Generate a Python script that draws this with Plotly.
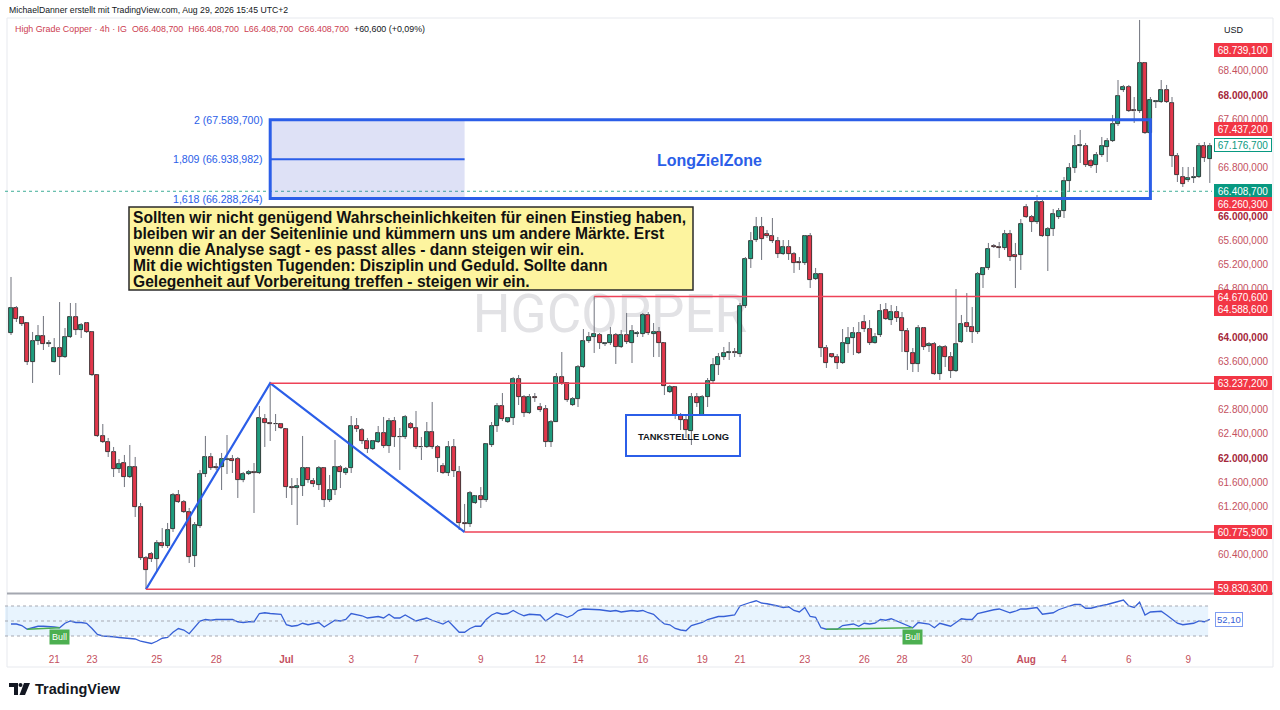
import plotly.graph_objects as go

# ---------------- DATA ----------------
OPEN = [
64066, 64479, 64331, 64231, 63587, 63934, 64017, 63884, 63587, 63818,
63669, 64000, 64331, 64116, 64231, 64083, 63372, 62364, 62265, 62099,
61818, 61917, 61686, 61851, 61190, 60347, 60413, 60331, 60595, 60545,
60826, 61388, 61273, 61107, 60380, 60876, 61735, 62017, 61851, 61851,
61967, 61983, 61983, 61636, 61735, 61769, 61752, 62645, 62579, 62562,
62562, 62479, 61520, 61510, 61537, 61835, 61620, 61554, 61835, 61306,
61471, 61851, 61752, 61835, 62529, 62463, 62281, 62149, 62265, 62413,
62198, 62612, 62347, 62347, 62562, 62496, 62182, 62182, 62430, 62182,
61868, 61752, 62182, 61769, 60926, 60909, 61256, 61372, 61306, 62215,
62529, 62860, 62595, 62661, 63306, 63008, 62744, 63000, 62843, 62810,
62265, 62595, 63339, 63240, 62876, 62975, 63504, 63934, 64000, 64033,
63884, 63901, 64033, 63835, 64033, 63901, 64050, 64050, 64364, 64050,
64083, 63901, 63091, 63174, 62711, 62628, 62446, 63008, 62711, 63008,
63273, 63537, 63669, 63736, 63736, 63719, 64512, 65289, 65603, 65818,
65703, 65670, 65587, 65372, 65488, 65372, 65240, 65223, 65670, 64959,
65041, 63818, 63719, 63669, 63570, 63884, 63983, 64066, 64248, 64132,
63901, 64033, 64446, 64281, 64413, 64314, 64099, 63736, 63554, 64149,
63851, 63884, 63388, 63835, 63669, 63438, 63917, 64231, 64165, 64083,
65025, 65141, 65504, 65488, 65471, 65703, 65355, 65355, 66149, 65984,
65901, 66232, 65670, 65785, 65984, 66083, 66579, 66794, 67160, 67157,
66909, 66843, 67008, 67141, 67240, 67521, 68083, 68133, 67736, 67736,
68529, 67372, 67885, 67885, 68083, 67868, 66992, 66645, 66595, 66628,
66645, 67157, 66942]

HIGH = [
64992, 64512, 64347, 64248, 64083, 64198, 64347, 63950, 63983, 64578,
64149, 64562, 64562, 64231, 64248, 64099, 63380, 62562, 62331, 62182,
61983, 62050, 62215, 62017, 61256, 60380, 60446, 60644, 60843, 60926,
61422, 61471, 61306, 61174, 60942, 61802, 62364, 62083, 61917, 62083,
62380, 62050, 62017, 61769, 61802, 61917, 62860, 62727, 63237, 62727,
62579, 62496, 61669, 61669, 62364, 61851, 61669, 61868, 61851, 61719,
62298, 61884, 61851, 62694, 62661, 62496, 62331, 62298, 62529, 62678,
62661, 62678, 62496, 62711, 62595, 62777, 62347, 62595, 62926, 62215,
61917, 62281, 62314, 61868, 61240, 61455, 61388, 61520, 62248, 62595,
62909, 63074, 62678, 63339, 63372, 63041, 63058, 63074, 62909, 62876,
62628, 63405, 63752, 63256, 63008, 63537, 64132, 64083, 64670, 64066,
63917, 64165, 64066, 64116, 64397, 64198, 64099, 64397, 64413, 64231,
64165, 63917, 63207, 63190, 62744, 62727, 63074, 63074, 63041, 63322,
63653, 63736, 63835, 63917, 63818, 64562, 65322, 65736, 65984, 65984,
65769, 65967, 65653, 65603, 65603, 65405, 65322, 65686, 65719, 65141,
65058, 63868, 63736, 63719, 64132, 64165, 64165, 64248, 64364, 64281,
64066, 64545, 64562, 64529, 64512, 64413, 64149, 63818, 64198, 64165,
63917, 63917, 63868, 63868, 63752, 64793, 64364, 64727, 64496, 65074,
65157, 65554, 65537, 65570, 65769, 65769, 65554, 65950, 66199, 66017,
66347, 66265, 65818, 66116, 66132, 66645, 66876, 67339, 67422, 67207,
66942, 67058, 67306, 67289, 67670, 68248, 68166, 68166, 67967, 69240,
68546, 67967, 67918, 68248, 68166, 67967, 67041, 66810, 66810, 66810,
67207, 67223, 67207]

LOW = [
64033, 64248, 64182, 63537, 63240, 63868, 63785, 63835, 63580, 63372,
63653, 63983, 64033, 63983, 64066, 63355, 62347, 62248, 62017, 61686,
61752, 61520, 61669, 61025, 60314, 59830, 60281, 60116, 60512, 60512,
60777, 61256, 61091, 60264, 60198, 60843, 61686, 61802, 61802, 61471,
61735, 61752, 61339, 61600, 61719, 61091, 61735, 62182, 62281, 62446,
62479, 61339, 61223, 60892, 61372, 61590, 61520, 61471, 61190, 61273,
61388, 61504, 61719, 61752, 62430, 62232, 62083, 62132, 62248, 62165,
62083, 62182, 61802, 62314, 62479, 62149, 61967, 62165, 62149, 61769,
61735, 61702, 61686, 60810, 60776, 60860, 61240, 61174, 61273, 62182,
62430, 62612, 62579, 62546, 62876, 62678, 62727, 62926, 62760, 62182,
62182, 62595, 63207, 62926, 62860, 62843, 63488, 63901, 63736, 63802,
63851, 63868, 63554, 63818, 63884, 63570, 64000, 64000, 64033, 63669,
63669, 63041, 63074, 62645, 62463, 62331, 62215, 62843, 62711, 62843,
63240, 63372, 63620, 63620, 63669, 63669, 64480, 65141, 65570, 65273,
65637, 65554, 65306, 65355, 65273, 65058, 65108, 65190, 64810, 64942,
63669, 63488, 63653, 63471, 63554, 63736, 63702, 63719, 64083, 63868,
63890, 64000, 64281, 64198, 64248, 63752, 63455, 63421, 63421, 63785,
63752, 63372, 63289, 63504, 63322, 63421, 63901, 64083, 63901, 64050,
64810, 65108, 65471, 65306, 65438, 65256, 64810, 65108, 65967, 65736,
65868, 65653, 65091, 65670, 65950, 65967, 66397, 66711, 66876, 66810,
66794, 66711, 66975, 66893, 67223, 67488, 68050, 67719, 67538, 67703,
67356, 67339, 67785, 67868, 67868, 66810, 66562, 66480, 66562, 66546,
66628, 66893, 66546]

CLOSE = [
64479, 64298, 64215, 63587, 63934, 64017, 63884, 63890, 63818, 63669,
64000, 64331, 64116, 64198, 64083, 63372, 62364, 62265, 62099, 61818,
61901, 61686, 61851, 61190, 60347, 60149, 60331, 60595, 60545, 60810,
61388, 61273, 61107, 60364, 60892, 61735, 62017, 61835, 61840, 61983,
61975, 61950, 61636, 61735, 61769, 61760, 62661, 62579, 62570, 62555,
62496, 61520, 61510, 61537, 61835, 61636, 61570, 61835, 61306, 61471,
61851, 61769, 61818, 62529, 62479, 62281, 62149, 62281, 62413, 62198,
62612, 62347, 62340, 62678, 62496, 62182, 62175, 62430, 62182, 62000,
61752, 62182, 61785, 60926, 60909, 61422, 61372, 61306, 62232, 62529,
62860, 62645, 62661, 63306, 63008, 62744, 63008, 62992, 62793, 62265,
62595, 63339, 63240, 62959, 62975, 63504, 63934, 64000, 64050, 63901,
63890, 64033, 63835, 64033, 63917, 64099, 64060, 64364, 64066, 64083,
63901, 63190, 63174, 62711, 62628, 62463, 63008, 62909, 63008, 63273,
63537, 63669, 63736, 63745, 63730, 64512, 65289, 65587, 65818, 65620,
65670, 65587, 65372, 65488, 65372, 65223, 65223, 65670, 64942, 65041,
63818, 63570, 63669, 63570, 63901, 63983, 64066, 63736, 64132, 63901,
64000, 64430, 64298, 64413, 64314, 64099, 63752, 63554, 64149, 63835,
63884, 63388, 63835, 63669, 63438, 63884, 64215, 64165, 64083, 65041,
65141, 65455, 65495, 65471, 65703, 65322, 65322, 65868, 65984, 65901,
66232, 65670, 65785, 66033, 66083, 66579, 66794, 67157, 67174, 66843,
66827, 67008, 67157, 67240, 67521, 67984, 68133, 67736, 67730, 68529,
67372, 67918, 67890, 68083, 67885, 66992, 66678, 66529, 66628, 66645,
67157, 66959, 67157]

RSI = [
46, 46, 44, 39, 41, 43, 43, 43, 42, 41,
47, 50, 48, 48, 47, 40, 32, 30, 30, 29,
28, 27, 27, 26, 23, 21, 20, 23, 27, 28,
35, 40, 38, 33, 42, 50, 52, 51, 52, 52,
52, 52, 49, 48, 49, 49, 60, 61, 60, 59,
59, 45, 43, 44, 47, 45, 46, 48, 42, 47,
51, 50, 52, 60, 59, 57, 54, 55, 56, 54,
59, 54, 54, 58, 54, 50, 52, 54, 51, 48,
46, 50, 42, 35, 35, 40, 43, 43, 52, 58,
61, 59, 60, 64, 60, 57, 59, 59, 58, 50,
55, 60, 58, 55, 58, 64, 66, 66, 66, 65,
64, 63, 64, 62, 63, 64, 63, 64, 61, 59,
52, 46, 45, 40, 38, 37, 44, 46, 48, 52,
54, 56, 56, 57, 58, 70, 73, 75, 77, 74,
73, 72, 70, 68, 69, 64, 62, 68, 56, 55,
41, 39, 39, 39, 44, 45, 46, 43, 47, 46,
47, 52, 51, 53, 50, 47, 43, 41, 48, 47,
46, 41, 47, 45, 43, 48, 53, 52, 52, 60,
62, 64, 65, 66, 64, 61, 63, 66, 66, 67,
68, 59, 60, 61, 65, 68, 70, 72, 72, 67,
67, 69, 70, 72, 74, 76, 78, 70, 68, 75,
58, 62, 62, 63, 58, 52, 47, 45, 46, 47,
50, 49, 52.1]

DATE_TICK_POS = [8, 15, 27, 38, 51, 63, 75, 87, 98, 105, 117, 128, 135, 147, 158, 165, 177, 188, 195, 207, 218]
DATE_TICK_TEXT = ["21", "23", "25", "28", "Jul", "3", "7", "9", "12", "14", "16", "19",
                  "21", "23", "26", "28", "30", "Aug", "4", "6", "9"]
MONTH_LABELS = ["Jul", "Aug"]

PRICE_TICKS = [68400, 68000, 67600, 66800, 66000, 65600, 65200, 64800,
               64000, 63600, 62800, 62400, 62000, 61600, 61200, 60400]
MAJOR_TICKS = [68000, 66000, 64000, 62000]

# horizontal levels: (start candle, price)
LEVEL_START = [108, 48, 84, 25]
LEVEL_PRICE = [64670.6, 63237.2, 60775.9, 59830.3]

ZIGZAG_IDX = [25, 48, 84]
ZIGZAG_PRICE = [59830.3, 63237.2, 60775.9]

FIB_LEVELS = [2.0, 1.809, 1.618]
FIB_PRICES = [67589.7, 66938.982, 66288.264]
FIB_START, FIB_END, ZONE_END = 48, 84, 211

LABEL_PRICES = [68739.1, 67437.2, 67176.7, 66408.7, 66260.3, 64670.6, 64588.6, 63237.2, 60775.9, 59830.3]
LABEL_KIND = ["red", "red", "teal_outline", "teal", "red", "red", "red", "red", "red", "red"]
LABEL_SHIFT = [0, 0, 0, 0, -4, -1, -8, 0, 0, 1]

DIVERGENCES = [(3, 9), (151, 167)]
RSI_LAST = 52.10
CURRENT_PRICE = 66408.7

# ---------------- helpers ----------------
W, H = 1280, 710
ML, MR, MT, MB = 5, 68, 18, 65
PW, PH = W - ML - MR, H - MT - MB


def px(p):
    return (p - ML) / PW


def py(p):
    return (H - MB - p) / PH


def de(v, dec=3):
    s = f"{v:,.{dec}f}"
    return s.replace(",", "X").replace(".", ",").replace("X", ".")


GREEN, RED = "#1f9c7e", "#e1374b"
BLUE = "#2b5ee8"
LEVEL_RED = "#ee4257"
AXIS_TXT = "#c4505e"
AXIS_BOLD = "#a5273a"
FONT = "Liberation Sans, Arial, sans-serif"

n = len(OPEN)
idx = list(range(n))
X_MIN = -6 / 5.4
X_MAX = (1212 - 11) / 5.4

fig = go.Figure()

# wicks (split so they don't cross the bodies)
wx, wy = [], []
for i in idx:
    top = max(OPEN[i], CLOSE[i])
    bot = min(OPEN[i], CLOSE[i])
    wx += [i, i, None, i, i, None]
    wy += [top, HIGH[i], None, LOW[i], bot, None]
fig.add_trace(go.Scatter(x=wx, y=wy, mode="lines", line=dict(color="#70737d", width=1),
                         hoverinfo="skip", xaxis="x", yaxis="y"))

# bodies
fig.add_trace(go.Bar(
    x=idx,
    y=[max(abs(c - o), 14) for o, c in zip(OPEN, CLOSE)],
    base=[min(o, c) for o, c in zip(OPEN, CLOSE)],
    width=0.74,
    marker=dict(color=[GREEN if c >= o else RED for o, c in zip(OPEN, CLOSE)],
                line=dict(color="#1b1b1b", width=0.8)),
    hoverinfo="skip", xaxis="x", yaxis="y"))

# zigzag
fig.add_trace(go.Scatter(x=ZIGZAG_IDX, y=ZIGZAG_PRICE, mode="lines",
                         line=dict(color=BLUE, width=2.2), hoverinfo="skip",
                         xaxis="x", yaxis="y"))

# RSI
fig.add_trace(go.Scatter(x=idx, y=RSI, mode="lines", line=dict(color="#3760d6", width=1.3),
                         hoverinfo="skip", xaxis="x", yaxis="y2"))
for a, b in DIVERGENCES:
    fig.add_trace(go.Scatter(x=[a, b], y=[RSI[a], RSI[b]], mode="lines",
                             line=dict(color="#4caf50", width=1.6), hoverinfo="skip",
                             xaxis="x", yaxis="y2"))

shapes = []
# outer chart frame
shapes.append(dict(type="rect", xref="paper", yref="paper", x0=px(7), x1=px(1273),
                   y0=py(667), y1=py(18), line=dict(color="#e7e9ee", width=1), layer="below"))
# horizontal red levels (+ extension to their axis label)
for s, p in zip(LEVEL_START, LEVEL_PRICE):
    shapes.append(dict(type="line", xref="x", yref="y", x0=s, x1=X_MAX, y0=p, y1=p,
                       line=dict(color=LEVEL_RED, width=1.5)))
    shapes.append(dict(type="line", xref="paper", yref="y", x0=1, x1=px(1214), y0=p, y1=p,
                       line=dict(color=LEVEL_RED, width=1.5)))
# current price dotted line
shapes.append(dict(type="line", xref="paper", yref="y", x0=0, x1=1, y0=CURRENT_PRICE, y1=CURRENT_PRICE,
                   line=dict(color="#3fae98", width=1, dash="dot")))
# fib fill + middle line
shapes.append(dict(type="rect", xref="x", yref="y", x0=FIB_START, x1=FIB_END,
                   y0=FIB_PRICES[2], y1=FIB_PRICES[0], fillcolor="rgba(60,80,200,0.17)",
                   line=dict(width=0)))
shapes.append(dict(type="line", xref="x", yref="y", x0=FIB_START, x1=FIB_END,
                   y0=FIB_PRICES[1], y1=FIB_PRICES[1], line=dict(color=BLUE, width=2)))
# zone rectangle
shapes.append(dict(type="rect", xref="x", yref="y", x0=FIB_START, x1=ZONE_END,
                   y0=FIB_PRICES[2], y1=FIB_PRICES[0], line=dict(color=BLUE, width=3)))
# Tankstelle box
shapes.append(dict(type="rect", xref="paper", yref="paper", x0=px(626), x1=px(740),
                   y0=py(456), y1=py(415), line=dict(color=BLUE, width=2)))
# yellow note box
shapes.append(dict(type="rect", xref="paper", yref="paper", x0=px(129), x1=px(693),
                   y0=py(290), y1=py(207), fillcolor="#fdf49f", line=dict(color="#2a2a2a", width=1.5)))
# watermark
shapes.append(dict(type="rect", xref="paper", yref="paper", x0=px(440), x1=px(780),
                   y0=py(338), y1=py(282), line=dict(width=0), layer="below",
                   label=dict(text="HGCOPPER", font=dict(size=53, color="#e2e2e5", family="Roboto"),
                              textposition="middle center")))
# pane separator
shapes.append(dict(type="line", xref="paper", yref="paper", x0=px(7), x1=px(1273), y0=py(593.5),
                   y1=py(593.5), line=dict(color="#a4a7b0", width=2)))
# RSI band
shapes.append(dict(type="rect", xref="x", yref="y2", x0=X_MIN, x1=221.7, y0=30, y1=70,
                   fillcolor="rgba(33,150,243,0.10)", line=dict(width=0), layer="below"))
for lv in (70, 50, 30):
    shapes.append(dict(type="line", xref="x", yref="y2", x0=X_MIN, x1=221.7, y0=lv, y1=lv,
                       line=dict(color="#a6a9b2", width=1, dash="dot")))


# TradingView logo
def path(pts):
    return "M " + " L ".join(f"{px(a)},{py(b)}" for a, b in pts) + " Z"


shapes.append(dict(type="path", xref="paper", yref="paper",
                   path=path([(9, 683), (18, 683), (18, 695), (14, 695), (14, 687), (9, 687)]),
                   fillcolor="#131722", line=dict(width=0)))
shapes.append(dict(type="circle", xref="paper", yref="paper", x0=px(18.5), x1=px(22.5),
                   y0=py(687), y1=py(683), fillcolor="#131722", line=dict(width=0)))
shapes.append(dict(type="path", xref="paper", yref="paper",
                   path=path([(24, 683), (30, 683), (25, 695), (19.5, 695)]),
                   fillcolor="#131722", line=dict(width=0)))

ann = []
# header
ann.append(dict(xref="paper", yref="paper", x=px(7), y=py(10), xanchor="left", yanchor="middle",
                text="MichaelDanner erstellt mit TradingView.com, Aug 29, 2026 15:45 UTC+2",
                font=dict(size=8.7, color="#131722", family=FONT), showarrow=False))
ohlc = "  ".join(f"{k}{de(CURRENT_PRICE)}" for k in "OHLC")
ann.append(dict(xref="paper", yref="paper", x=px(13), y=py(29), xanchor="left", yanchor="middle",
                text=(f"<span style='color:#cc3d51'>High Grade Copper · 4h · IG  {ohlc}</span>"
                      f"  <span style='color:#131722'>+60,600 (+0,09%)</span>"),
                font=dict(size=8.9, family=FONT), showarrow=False))
ann.append(dict(xref="paper", yref="paper", x=px(1222), y=py(30), xanchor="left", yanchor="middle",
                text="USD", font=dict(size=9, color="#131722", family=FONT), showarrow=False))

# fib labels
for lv, p in zip(FIB_LEVELS, FIB_PRICES):
    ann.append(dict(xref="x", yref="y", x=FIB_START, y=p, xanchor="right", yanchor="middle", xshift=-5,
                    text=f"{lv:g}".replace(".", ",") + f" ({de(p)})",
                    font=dict(size=10.6, color=BLUE, family=FONT), showarrow=False))
ann.append(dict(xref="paper", yref="paper", x=px(710), y=py(160), xanchor="center", yanchor="middle",
                text="<b>LongZielZone</b>", font=dict(size=16, color=BLUE, family=FONT), showarrow=False))
ann.append(dict(xref="paper", yref="paper", x=px(683), y=py(436), xanchor="center", yanchor="middle",
                text="<b>TANKSTELLE LONG</b>", font=dict(size=9.4, color="#131722", family=FONT),
                showarrow=False))

NOTE = ["Sollten wir nicht genügend Wahrscheinlichkeiten für einen Einstieg haben,",
        "bleiben wir an der Seitenlinie und kümmern uns um andere Märkte. Erst",
        "wenn die Analyse sagt - es passt alles - dann steigen wir ein.",
        "Mit die wichtigsten Tugenden: Disziplin und Geduld. Sollte dann",
        "Gelegenheit auf Vorbereitung treffen - steigen wir ein."]
for k, line in enumerate(NOTE):
    ann.append(dict(xref="paper", yref="paper", x=px(131), y=py(218 + k * 15.8), xanchor="left",
                    yanchor="middle", text=f"<b>{line}</b>",
                    font=dict(size=15.6, color="#111111", family=FONT), showarrow=False))

# price labels on the axis
for p, kind, sh in zip(LABEL_PRICES, LABEL_KIND, LABEL_SHIFT):
    if kind == "red":
        bg, fg, bc = "#f23645", "white", "#f23645"
    elif kind == "teal":
        bg, fg, bc = "#089981", "white", "#089981"
    else:
        bg, fg, bc = "white", "#089981", "#089981"
    ann.append(dict(xref="paper", yref="y", x=px(1214), y=p, yshift=sh, xanchor="left", yanchor="middle",
                    text=de(p), font=dict(size=10, color=fg, family=FONT), bgcolor=bg,
                    bordercolor=bc, borderwidth=1, borderpad=0.5, width=55, height=11,
                    align="center", showarrow=False))
ann.append(dict(xref="paper", yref="y2", x=px(1215), y=RSI_LAST, xanchor="left", yanchor="middle",
                text=de(RSI_LAST, 2), font=dict(size=9.5, color="#3760d6", family=FONT), bgcolor="white",
                bordercolor="#7f9cf0", borderwidth=1, borderpad=1, showarrow=False))
# Bull labels
for a, b in DIVERGENCES:
    ann.append(dict(xref="x", yref="y2", x=b, y=RSI[b], yanchor="top", yshift=-1,
                    text="Bull", font=dict(size=9, color="white", family=FONT), bgcolor="#4caf50",
                    borderpad=2, showarrow=False))
# logo text
ann.append(dict(xref="paper", yref="paper", x=px(33), y=py(689), xanchor="left", yanchor="middle",
                text="<b>TradingView</b>", font=dict(size=14.5, color="#131722", family=FONT),
                showarrow=False))

tick_text = []
for t in PRICE_TICKS:
    if t in MAJOR_TICKS:
        tick_text.append(f"<span style='color:{AXIS_BOLD}'><b>{de(t)}</b></span>")
    else:
        tick_text.append(de(t))
date_text = [f"<b>{t}</b>" if t in MONTH_LABELS else t for t in DATE_TICK_TEXT]

main_bottom = py(593)
rsi_top = py(597)
P_PER_PX = 2000 / 121
fig.update_layout(
    width=W, height=H, margin=dict(l=ML, r=MR, t=MT, b=MB),
    paper_bgcolor="white", plot_bgcolor="white", showlegend=False,
    font=dict(family=FONT), bargap=0,
    xaxis=dict(domain=[0, 1], anchor="y2", range=[X_MIN, X_MAX], tickvals=DATE_TICK_POS,
               ticktext=date_text, showgrid=False, zeroline=False, showline=False, ticks="",
               tickfont=dict(size=10, color=AXIS_TXT, family=FONT), ticklabelstandoff=7),
    yaxis=dict(domain=[main_bottom, 1], anchor="x", side="right",
               range=[64000 - (593 - 337) * P_PER_PX, 64000 + (337 - 18) * P_PER_PX],
               tickvals=PRICE_TICKS, ticktext=tick_text, showgrid=False, zeroline=False,
               ticks="", tickfont=dict(size=10, color=AXIS_TXT, family=FONT), ticklabelstandoff=5),
    yaxis2=dict(domain=[0, rsi_top], anchor="x", side="right", range=[18, 82],
                showticklabels=False, showgrid=False, zeroline=False, ticks=""),
    shapes=shapes, annotations=ann,
)

fig.write_html("out.html", config={"displayModeBar": False},
               post_script="document.body.style.margin='0';")
